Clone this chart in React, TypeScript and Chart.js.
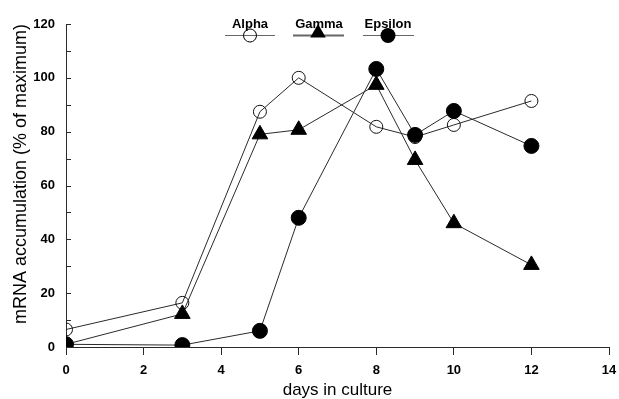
import React, { useEffect, useRef } from 'react';
import { Chart, registerables } from 'chart.js';

Chart.register(...registerables);

const days = [0, 3, 5, 6, 8, 9, 10, 12];
const alphaValues = [6.5, 16.4, 87.4, 100, 81.8, 78, 82.5, 91.4];
const gammaValues = [1, 12.3, 79, 80.7, 97.4, 69.5, 46, 30.5];
const epsilonValues = [1, 0.7, 6, 48, 103.3, 78.8, 87.7, 74.7];
const yMajorTicks = [0, 20, 40, 60, 80, 100, 120];
const yMinorTicks = [10, 30, 50, 70, 90, 110];
const seriesNames = ['Alpha', 'Gamma', 'Epsilon'];
const xTitle = 'days in culture';
const yTitle = 'mRNA accumulation (% of maximum)';

const LINE = '#2a2a2a';
const FONT = "'Liberation Sans', Arial, Helvetica, sans-serif";

const toPoints = (vals: number[]) => days.map((d, i) => ({ x: d, y: vals[i] }));

const yTickPlugin = {
  id: 'yInwardTicks',
  afterDraw(chart: any) {
    const { ctx } = chart;
    const y = chart.scales.y;
    const left = chart.chartArea.left;
    ctx.save();
    ctx.strokeStyle = LINE;
    ctx.lineWidth = 1;
    ctx.beginPath();
    [...yMajorTicks, ...yMinorTicks].forEach((v) => {
      const py = Math.round(y.getPixelForValue(v)) + 0.5;
      ctx.moveTo(left, py);
      ctx.lineTo(left + 5, py);
    });
    ctx.stroke();
    ctx.restore();
  },
};

const legendPlugin = {
  id: 'customLegend',
  afterDraw(chart: any) {
    const { ctx } = chart;
    const items = [
      { name: seriesNames[0], tx: 250, cx: 250, x1: 225, x2: 275, style: 'openCircle' },
      { name: seriesNames[1], tx: 319, cx: 318, x1: 293, x2: 344, style: 'triangle' },
      { name: seriesNames[2], tx: 388, cx: 388, x1: 363, x2: 414, style: 'filledCircle' },
    ];
    ctx.save();
    items.forEach((it) => {
      ctx.fillStyle = '#000';
      ctx.font = `bold 13px ${FONT}`;
      ctx.textAlign = 'center';
      ctx.textBaseline = 'alphabetic';
      ctx.fillText(it.name, it.tx, 28);
      ctx.strokeStyle = '#666';
      ctx.lineWidth = it.style === 'triangle' ? 2 : 1;
      ctx.beginPath();
      ctx.moveTo(it.x1, 35.5);
      ctx.lineTo(it.x2, 35.5);
      ctx.stroke();
      ctx.strokeStyle = '#000';
      ctx.lineWidth = 1;
      if (it.style === 'openCircle') {
        ctx.beginPath();
        ctx.arc(it.cx, 35.5, 6.5, 0, Math.PI * 2);
        ctx.stroke();
      } else if (it.style === 'filledCircle') {
        ctx.beginPath();
        ctx.arc(it.cx, 35.5, 7.5, 0, Math.PI * 2);
        ctx.fill();
      } else {
        const r = 9;
        const cy = 33;
        ctx.beginPath();
        for (let k = 0; k < 3; k++) {
          const a = (k * 2 * Math.PI) / 3;
          const px = it.cx + Math.sin(a) * r;
          const py = cy - Math.cos(a) * r;
          if (k === 0) ctx.moveTo(px, py);
          else ctx.lineTo(px, py);
        }
        ctx.closePath();
        ctx.fill();
      }
    });
    ctx.restore();
  },
};

export default function App() {
  const ref = useRef<HTMLCanvasElement | null>(null);

  useEffect(() => {
    if (!ref.current) return;
    const chart = new Chart(ref.current, {
      type: 'line',
      data: {
        datasets: [
          {
            label: seriesNames[2],
            data: toPoints(epsilonValues),
            borderColor: LINE,
            borderWidth: 1,
            pointStyle: 'circle',
            pointRadius: 7.5,
            pointBackgroundColor: '#000',
            pointBorderColor: '#000',
            pointBorderWidth: 1,
            order: 1,
          },
          {
            label: seriesNames[1],
            data: toPoints(gammaValues),
            borderColor: LINE,
            borderWidth: 1,
            pointStyle: 'triangle',
            pointRadius: 9,
            pointBackgroundColor: '#000',
            pointBorderColor: '#000',
            pointBorderWidth: 1,
            order: 2,
          },
          {
            label: seriesNames[0],
            data: toPoints(alphaValues),
            borderColor: LINE,
            borderWidth: 1,
            pointStyle: 'circle',
            pointRadius: 6.5,
            pointBackgroundColor: 'rgba(0,0,0,0)',
            pointBorderColor: '#111',
            pointBorderWidth: 1,
            order: 3,
          },
        ],
      },
      options: {
        responsive: false,
        animation: false,
        events: [],
        layout: { padding: { top: 24, right: 7, left: 0, bottom: 0 } },
        plugins: {
          legend: { display: false },
          tooltip: { enabled: false },
        },
        scales: {
          x: {
            type: 'linear',
            min: 0,
            max: 14,
            ticks: {
              stepSize: 2,
              color: '#000',
              padding: 8,
              font: { family: FONT, size: 13, weight: 'bold' },
              maxRotation: 0,
            },
            grid: {
              display: true,
              drawOnChartArea: false,
              drawTicks: true,
              tickLength: 8,
              color: LINE,
            },
            border: { display: true, color: LINE, width: 1 },
            title: {
              display: true,
              text: xTitle,
              color: '#000',
              font: { family: FONT, size: 17, lineHeight: 1 },
              padding: { top: 0, bottom: 0 },
            },
            afterFit: (s: any) => {
              s.height = 52;
              s.paddingLeft = 0;
              s.paddingRight = 0;
            },
          },
          y: {
            type: 'linear',
            min: 0,
            max: 120,
            ticks: {
              stepSize: 20,
              color: '#000',
              padding: 3,
              font: { family: FONT, size: 13, weight: 'bold' },
            },
            grid: { display: false },
            border: { display: true, color: LINE, width: 1 },
            title: {
              display: true,
              text: yTitle,
              align: 'end',
              color: '#000',
              font: { family: FONT, size: 18, lineHeight: 1 },
              padding: { top: 12, bottom: 0 },
            },
            afterFit: (s: any) => {
              s.width = 66;
              s.paddingTop = 0;
              s.paddingBottom = 0;
            },
          },
        },
      },
      plugins: [yTickPlugin, legendPlugin],
    } as any);
    return () => chart.destroy();
  }, []);

  return (
    <div style={{ position: 'fixed', left: 0, top: 0, width: 619, height: 399, background: '#fff' }}>
      <canvas ref={ref} width={619} height={399} style={{ display: 'block' }} />
    </div>
  );
}
